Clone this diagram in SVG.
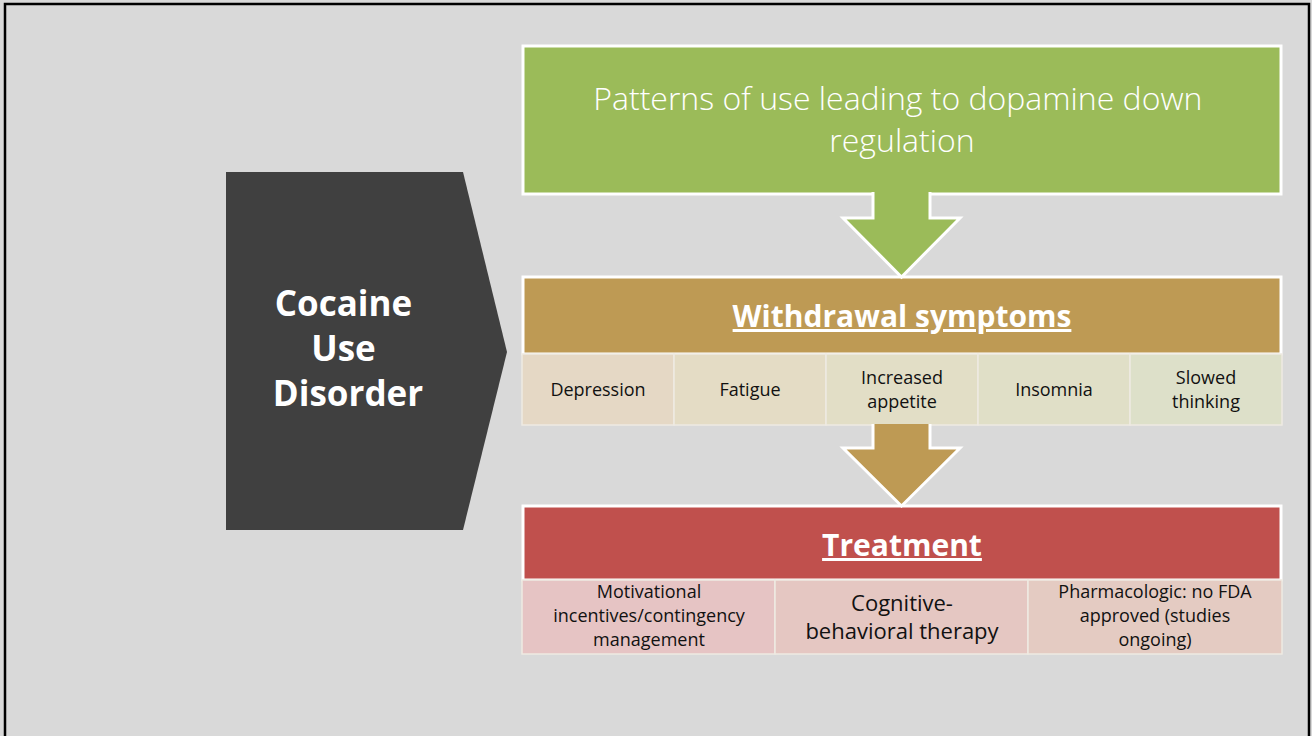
<svg xmlns="http://www.w3.org/2000/svg" width="1312" height="736" viewBox="0 0 1312 736">
  <style>
    .t { font-family: "Open Sans", "Liberation Sans", sans-serif; text-anchor: middle; }
    .w { fill: #FFFFFF; }
    .k { fill: #111111; }
    .hdr { font-size: 30px; font-weight: 700; text-decoration: underline; }
    .cell { font-size: 18px; }
    .big { font-size: 22px; }
    .frame { stroke: #FFFFFF; stroke-width: 3; }
    .sub { stroke: #EEEAE2; stroke-width: 1.5; }
  </style>
  <rect x="0" y="0" width="1312" height="736" fill="#D9D9D9"/>
  <rect x="5" y="4" width="1304" height="760" fill="none" stroke="#000000" stroke-width="2.5"/>

  <g id="cocaine-use-disorder">
    <polygon points="226,172 463,172 507,352 463,530 226,530" fill="#404040"/>
    <text class="t w" font-size="35" font-weight="700">
      <tspan x="348" y="316">Cocaine</tspan>
      <tspan x="348" y="361">Use</tspan>
      <tspan x="348" y="406">Disorder</tspan>
    </text>
  </g>

  <g id="patterns">
    <rect x="523" y="46" width="758" height="148" fill="#9BBB59" class="frame"/>
    <text class="t w" font-size="32" font-weight="300">
      <tspan x="902" y="109.5">Patterns of use leading to dopamine down</tspan>
      <tspan x="902" y="151.5">regulation</tspan>
    </text>
  </g>

  <g id="withdrawal">
    <rect x="523" y="277" width="758" height="77" fill="#BE9A54" class="frame"/>
    <text class="t w hdr" x="902" y="327">Withdrawal symptoms</text>
    <rect x="522" y="354" width="152" height="71" fill="#E5D8C5" class="sub"/>
    <rect x="674" y="354" width="152" height="71" fill="#E4DCC5" class="sub"/>
    <rect x="826" y="354" width="152" height="71" fill="#E2DEC6" class="sub"/>
    <rect x="978" y="354" width="152" height="71" fill="#E0DFC7" class="sub"/>
    <rect x="1130" y="354" width="152" height="71" fill="#DDE0C9" class="sub"/>
    <text class="t k cell" x="598" y="396">Depression</text>
    <text class="t k cell" x="750" y="396">Fatigue</text>
    <text class="t k cell"><tspan x="902" y="384">Increased</tspan><tspan x="902" y="408">appetite</tspan></text>
    <text class="t k cell" x="1054" y="396">Insomnia</text>
    <text class="t k cell"><tspan x="1206" y="384">Slowed</tspan><tspan x="1206" y="408">thinking</tspan></text>
  </g>

  <g id="treatment">
    <rect x="523" y="506" width="758" height="74" fill="#C0504D" class="frame"/>
    <text class="t w hdr" x="902" y="556">Treatment</text>
    <rect x="522" y="580" width="253" height="74" fill="#E6C4C4" class="sub" stroke="#F4F0EE"/>
    <rect x="775" y="580" width="253" height="74" fill="#E5C7C2" class="sub" stroke="#F4F0EE"/>
    <rect x="1028" y="580" width="254" height="74" fill="#E4CBC2" class="sub" stroke="#F4F0EE"/>
    <text class="t k cell"><tspan x="649" y="598">Motivational</tspan><tspan x="649" y="622">incentives/contingency</tspan><tspan x="649" y="646">management</tspan></text>
    <text class="t k big"><tspan x="902" y="611">Cognitive-</tspan><tspan x="902" y="639">behavioral therapy</tspan></text>
    <text class="t k cell"><tspan x="1155" y="598">Pharmacologic: no FDA</tspan><tspan x="1155" y="622">approved (studies</tspan><tspan x="1155" y="646">ongoing)</tspan></text>
  </g>

  <g id="connectors">
    <path d="M873,192 V218 H843 L901.5,277 L960,218 H930 V192" fill="#9BBB59" class="frame" stroke-linejoin="miter"/>
    <path d="M873,424 V448 H843 L901.5,506 L960,448 H930 V424" fill="#BE9A54" class="frame" stroke-linejoin="miter"/>
  </g>
</svg>
